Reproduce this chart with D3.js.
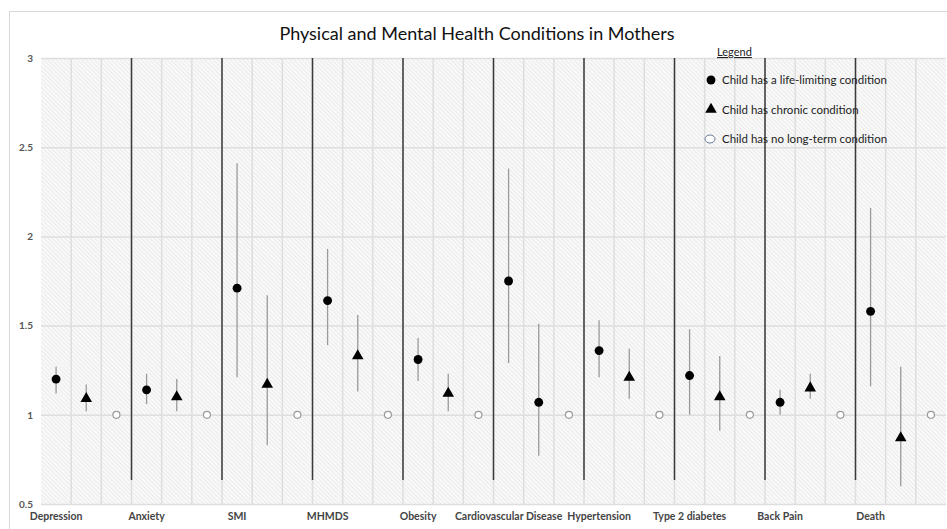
<!DOCTYPE html>
<html>
<head>
<meta charset="utf-8">
<script src="https://cdn.jsdelivr.net/npm/d3@7"></script>
<style>
  body { margin: 0; background: #fff; }
  text { font-family: Lato, "Open Sans", sans-serif; }
</style>
</head>
<body>
<div id="chart"></div>
<script>
// chart data
var categories = ["Depression", "Anxiety", "SMI", "MHMDS", "Obesity", "Cardiovascular Disease",
  "Hypertension", "Type 2 diabetes", "Back Pain", "Death"];

var lifeLimiting     = [1.20, 1.14, 1.71, 1.64, 1.31, 1.75, 1.36, 1.22, 1.07, 1.58];
var lifeLimitingLow  = [1.12, 1.06, 1.21, 1.39, 1.19, 1.29, 1.21, 1.00, 1.00, 1.16];
var lifeLimitingHigh = [1.27, 1.23, 2.41, 1.93, 1.43, 2.38, 1.53, 1.48, 1.14, 2.16];

var chronic     = [1.09, 1.10, 1.17, 1.33, 1.12, 1.07, 1.21, 1.10, 1.15, 0.87];
var chronicLow  = [1.02, 1.02, 0.83, 1.13, 1.02, 0.77, 1.09, 0.91, 1.09, 0.60];
var chronicHigh = [1.17, 1.20, 1.67, 1.56, 1.23, 1.51, 1.37, 1.33, 1.23, 1.27];
// marker used for the chronic series (the cardiovascular one is drawn as a dot)
var chronicShape = ["triangle", "triangle", "triangle", "triangle", "triangle", "circle",
  "triangle", "triangle", "triangle", "triangle"];

var noCondition = [1, 1, 1, 1, 1, 1, 1, 1, 1, 1];

var yTicks = [0.5, 1, 1.5, 2, 2.5, 3];
var separatorLow = 0.635;

var legendLabels = ["Child has a life-limiting condition", "Child has chronic condition",
  "Child has  no long-term condition"];

//define chart parameters
var svgWidth = 947;
var svgHeight = 529;

var plot = { left: 41, right: 946, top: 58, bottom: 504 };

var svg = d3.select("#chart")
  .append("svg")
  .attr("width", svgWidth)
  .attr("height", svgHeight);

// hatch pattern for the plot area
var defs = svg.append("defs");
var pattern = defs.append("pattern")
  .attr("id", "hatch")
  .attr("patternUnits", "userSpaceOnUse")
  .attr("width", 3)
  .attr("height", 3)
  .attr("patternTransform", "rotate(-45)");
pattern.append("rect")
  .attr("width", 3)
  .attr("height", 3)
  .attr("fill", "#f9f9f9");
pattern.append("line")
  .attr("x1", 0).attr("y1", 0)
  .attr("x2", 0).attr("y2", 3)
  .attr("stroke", "#e2e2e2")
  .attr("stroke-width", 1.2);

// chart border
svg.append("rect")
  .attr("x", 9.5)
  .attr("y", 11.5)
  .attr("width", 960)
  .attr("height", 540)
  .attr("fill", "#fff")
  .attr("stroke", "#d9d9d9");

svg.append("text")
  .attr("x", 477)
  .attr("y", 40)
  .attr("text-anchor", "middle")
  .attr("font-size", "18px")
  .attr("fill", "#111")
  .text("Physical and Mental Health Conditions in Mothers");

// scales: three slots per category
var slots = d3.range(categories.length * 3);
var xScale = d3.scaleBand()
  .domain(slots)
  .range([plot.left, plot.right]);
var yScale = d3.scaleLinear()
  .domain([0.5, 3])
  .range([plot.bottom, plot.top]);

var cx = function(i) { return xScale(i) + xScale.bandwidth() / 2; };

svg.append("rect")
  .attr("x", plot.left)
  .attr("y", plot.top)
  .attr("width", plot.right - plot.left)
  .attr("height", plot.bottom - plot.top)
  .attr("fill", "url(#hatch)");

// vertical gridlines at slot edges
svg.append("g")
  .selectAll("line")
  .data(slots.slice(1))
  .enter()
  .append("line")
  .attr("x1", d => xScale(d))
  .attr("x2", d => xScale(d))
  .attr("y1", plot.top)
  .attr("y2", plot.bottom)
  .attr("stroke", "#dedede")
  .attr("stroke-width", 1.5);

// y axis with horizontal gridlines
var leftAxis = d3.axisLeft(yScale)
  .tickValues(yTicks)
  .tickFormat(d => d)
  .tickSize(-(plot.right - plot.left))
  .tickPadding(8);
var yAxis = svg.append("g")
  .attr("transform", `translate(${plot.left}, 0)`)
  .call(leftAxis);
yAxis.select(".domain").remove();
yAxis.selectAll("line")
  .attr("stroke", "#dedede")
  .attr("stroke-width", 1.5);
yAxis.selectAll("text")
  .attr("font-size", "10px")
  .attr("font-weight", "bold")
  .attr("fill", "#555");

// category labels under the first slot of each group
var bottomAxis = d3.axisBottom(xScale)
  .tickValues(categories.map((c, i) => i * 3))
  .tickFormat(d => categories[d / 3])
  .tickSize(0)
  .tickPadding(9);
var xAxis = svg.append("g")
  .attr("transform", `translate(0, ${plot.bottom})`)
  .call(bottomAxis);
xAxis.select(".domain").remove();
xAxis.selectAll("text")
  .attr("font-size", "10.5px")
  .attr("font-weight", "bold")
  .attr("fill", "#444");

// dark separators between categories
svg.append("g")
  .selectAll("line")
  .data(categories.slice(1).map((c, i) => (i + 1) * 3))
  .enter()
  .append("line")
  .attr("x1", d => xScale(d))
  .attr("x2", d => xScale(d))
  .attr("y1", yScale(3))
  .attr("y2", yScale(separatorLow))
  .attr("stroke", "#3a3a3a")
  .attr("stroke-width", 1.5);

// error bars
var bars = [];
categories.forEach(function(c, i) {
  bars.push({ slot: i * 3, low: lifeLimitingLow[i], high: lifeLimitingHigh[i] });
  bars.push({ slot: i * 3 + 1, low: chronicLow[i], high: chronicHigh[i] });
});
svg.append("g")
  .selectAll("line")
  .data(bars)
  .enter()
  .append("line")
  .attr("x1", d => cx(d.slot))
  .attr("x2", d => cx(d.slot))
  .attr("y1", d => yScale(d.low))
  .attr("y2", d => yScale(d.high))
  .attr("stroke", "#9a9a9a")
  .attr("stroke-width", 1.3);

var circleSym = d3.symbol().type(d3.symbolCircle).size(62);
var triSym = d3.symbol().type(d3.symbolTriangle).size(58);

// life-limiting points
svg.append("g")
  .selectAll("path")
  .data(lifeLimiting)
  .enter()
  .append("path")
  .attr("d", circleSym)
  .attr("transform", (d, i) => `translate(${cx(i * 3)}, ${yScale(d)})`)
  .attr("fill", "#000");

// chronic points
svg.append("g")
  .selectAll("path")
  .data(chronic)
  .enter()
  .append("path")
  .attr("d", (d, i) => chronicShape[i] == "circle" ? circleSym() : triSym())
  .attr("transform", (d, i) => `translate(${cx(i * 3 + 1)}, ${yScale(d)})`)
  .attr("fill", "#000");

// no long-term condition points
svg.append("g")
  .selectAll("circle")
  .data(noCondition)
  .enter()
  .append("circle")
  .attr("cx", (d, i) => cx(i * 3 + 2))
  .attr("cy", d => yScale(d))
  .attr("r", 3.5)
  .attr("fill", "#fff")
  .attr("stroke", "#9a9a9a")
  .attr("stroke-width", 1.2);

// legend
var legend = svg.append("g");
legend.append("text")
  .attr("x", 717)
  .attr("y", 56)
  .attr("font-size", "11px")
  .attr("fill", "#222")
  .attr("text-decoration", "underline")
  .text("Legend");

var legendSym = [circleSym(), triSym(), null];
legendLabels.forEach(function(label, i) {
  var ly = 80 + i * 29.5;
  if (i < 2) {
    legend.append("path")
      .attr("d", legendSym[i])
      .attr("transform", `translate(711, ${ly})`)
      .attr("fill", "#000");
  } else {
    legend.append("ellipse")
      .attr("cx", 710)
      .attr("cy", ly)
      .attr("rx", 5)
      .attr("ry", 4)
      .attr("fill", "#fff")
      .attr("stroke", "#6a7a9a")
      .attr("stroke-width", 1);
  }
  legend.append("text")
    .attr("x", 722)
    .attr("y", ly + 4)
    .attr("font-size", "11.5px")
    .attr("fill", "#222")
    .text(label);
});
</script>
</body>
</html>
